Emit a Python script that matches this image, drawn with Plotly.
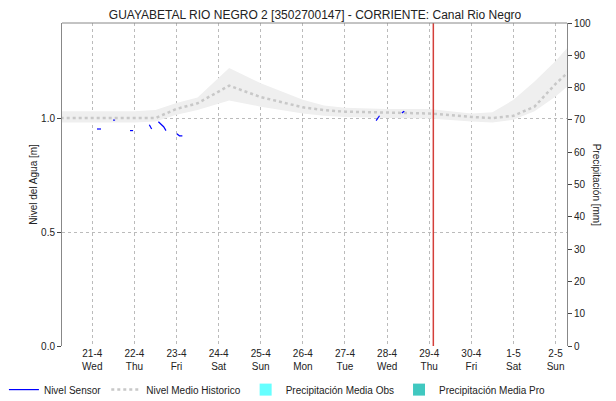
import plotly.graph_objects as go

# ---------------- data ----------------
title_text = "GUAYABETAL RIO NEGRO 2 [3502700147] - CORRIENTE: Canal Rio Negro"

# Sensor level segments (None breaks the line)
sensor_time = [
    "2021-04-21 02:40", "2021-04-21 05:00", None,
    "2021-04-21 11:50", "2021-04-21 13:00", None,
    "2021-04-21 21:30", "2021-04-21 23:15", None,
    "2021-04-22 08:30", "2021-04-22 09:50", None,
    "2021-04-22 13:40", "2021-04-22 15:10", "2021-04-22 16:40", "2021-04-22 18:00", None,
    "2021-04-23 00:10", "2021-04-23 01:40", "2021-04-23 03:20", None,
    "2021-04-27 17:45", "2021-04-27 19:40", None,
    "2021-04-28 08:25", "2021-04-28 09:25", "2021-04-28 10:25",
]
sensor_level = [
    0.952, 0.952, None,
    0.991, 0.991, None,
    0.945, 0.945, None,
    0.971, 0.952, None,
    0.984, 0.971, 0.962, 0.945, None,
    0.931, 0.922, 0.922, None,
    0.989, 1.010, None,
    1.022, 1.029, 1.022,
]

# Historic mean level and its band
hist_time = [
    "2021-04-20 06:00", "2021-04-21 00:00", "2021-04-22 00:00", "2021-04-22 12:00",
    "2021-04-23 00:00", "2021-04-23 12:00", "2021-04-24 06:00", "2021-04-25 00:00",
    "2021-04-26 00:00", "2021-04-26 12:00", "2021-04-27 00:00", "2021-04-28 00:00",
    "2021-04-29 00:00", "2021-04-30 00:00", "2021-04-30 12:00", "2021-05-01 00:00",
    "2021-05-01 12:00", "2021-05-02 00:00", "2021-05-02 07:00",
]
hist_mean = [1.00, 1.00, 1.00, 1.00, 1.04, 1.065, 1.142, 1.092, 1.047, 1.035, 1.028,
             1.023, 1.02, 1.005, 1.00, 1.01, 1.05, 1.15, 1.20]
hist_upper = [1.03, 1.03, 1.03, 1.035, 1.066, 1.09, 1.22, 1.153, 1.08, 1.055, 1.045,
              1.04, 1.04, 1.02, 1.025, 1.08, 1.16, 1.25, 1.31]
hist_lower = [0.98, 0.98, 0.98, 0.985, 1.014, 1.035, 1.077, 1.05, 1.02, 1.01, 1.005,
              1.0, 0.998, 0.985, 0.98, 0.993, 1.03, 1.095, 1.14]

# Precipitation (no values recorded in this window)
precip_obs_time = ["2021-04-25 00:00"]
precip_obs = [0]
precip_pro_time = ["2021-04-30 00:00"]
precip_pro = [0]

tick_dates = ["2021-04-21", "2021-04-22", "2021-04-23", "2021-04-24", "2021-04-25",
              "2021-04-26", "2021-04-27", "2021-04-28", "2021-04-29", "2021-04-30",
              "2021-05-01", "2021-05-02"]
tick_labels = ["21-4<br>Wed", "22-4<br>Thu", "23-4<br>Fri", "24-4<br>Sat", "25-4<br>Sun",
               "26-4<br>Mon", "27-4<br>Tue", "28-4<br>Wed", "29-4<br>Thu", "30-4<br>Fri",
               "1-5<br>Sat", "2-5<br>Sun"]
x_range = ["2021-04-20 06:45", "2021-05-02 06:30"]
now_time = "2021-04-29 02:20"

# ---------------- figure ----------------
# the page adds an 8px body margin, so the figure is 8px smaller than the window
font = "Liberation Sans, Arial, sans-serif"
fig = go.Figure()

fig.add_trace(go.Scatter(x=hist_time, y=hist_upper, mode="lines", line=dict(width=0),
                         hoverinfo="skip", showlegend=False))
fig.add_trace(go.Scatter(x=hist_time, y=hist_lower, mode="lines", line=dict(width=0),
                         fill="tonexty", fillcolor="#efefef",
                         hoverinfo="skip", showlegend=False))
fig.add_trace(go.Scatter(x=sensor_time, y=sensor_level, mode="lines", name="Nivel Sensor",
                         line=dict(color="#0000ff", width=1.2), connectgaps=False))
fig.add_trace(go.Scatter(x=hist_time, y=hist_mean, mode="lines", name="Nivel Medio Historico",
                         line=dict(color="#c8c8c8", width=2.5, dash="dot")))
fig.add_trace(go.Bar(x=precip_obs_time, y=precip_obs, name="Precipitación Media Obs",
                     marker=dict(color="#66ffff", line=dict(width=0)), yaxis="y2"))
fig.add_trace(go.Bar(x=precip_pro_time, y=precip_pro, name="Precipitación Media Pro",
                     marker=dict(color="#40c8c0", line=dict(width=0)), yaxis="y2"))

fig.add_shape(type="line", xref="x", yref="paper", x0=now_time, x1=now_time, y0=0, y1=1,
              line=dict(color="#d43f3a", width=1.5))
fig.add_shape(type="line", xref="paper", yref="paper", x0=0, x1=1, y0=1, y1=1,
              line=dict(color="#888888", width=1))

fig.add_annotation(text="Nivel del Agua [m]", xref="paper", yref="paper", x=-0.057, y=0.5,
                   textangle=-90, showarrow=False, xanchor="center", yanchor="middle",
                   font=dict(size=10, family=font, color="#222"))
fig.add_annotation(text="Precipitación [mm]", xref="paper", yref="paper", x=1.059, y=0.5,
                   textangle=90, showarrow=False, xanchor="center", yanchor="middle",
                   font=dict(size=10, family=font, color="#222"))

fig.update_layout(
    width=608, height=393,
    margin=dict(l=54, r=49, t=15, b=55, autoexpand=False),
    paper_bgcolor="white", plot_bgcolor="white",
    font=dict(family=font, size=10, color="#222"),
    title=dict(text=title_text, x=0.505, xanchor="center", y=0.993, yanchor="top",
               yref="container", pad=dict(t=0, b=0),
               font=dict(size=12, family=font, color="#222")),
    showlegend=True,
    legend=dict(orientation="h", xref="paper", yref="paper", x=-0.115, xanchor="left",
                y=-0.135, yanchor="middle", font=dict(size=10, family=font), itemwidth=30,
                traceorder="normal", bgcolor="rgba(0,0,0,0)"),
    bargap=0.2,
    xaxis=dict(type="date", range=x_range, tickmode="array", tickvals=tick_dates,
               ticktext=tick_labels, showgrid=True, gridcolor="#bbbbbb", griddash="dot",
               gridwidth=1, showline=False, zeroline=False, ticks="", tickfont=dict(size=10)),
    yaxis=dict(range=[0, 1.417], tickvals=[0, 0.5, 1.0], tickformat=".1f",
               showgrid=True, gridcolor="#bbbbbb", griddash="dot", gridwidth=1,
               showline=True, linecolor="#888888", linewidth=1, ticks="outside",
               ticklen=4, tickcolor="#444", zeroline=False),
    yaxis2=dict(range=[0, 100], dtick=10, overlaying="y", side="right", showgrid=False,
                showline=True, linecolor="#888888", linewidth=1, ticks="outside",
                ticklen=4, tickcolor="#444", zeroline=False),
)

fig.write_html("out.html")
